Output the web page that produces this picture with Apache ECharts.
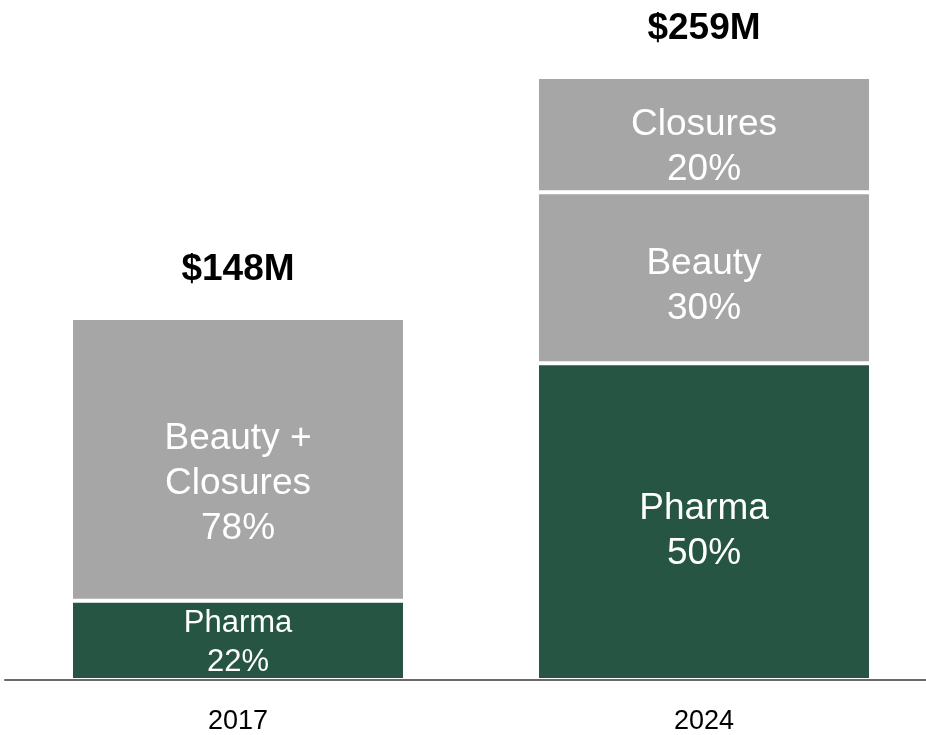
<!DOCTYPE html>
<html>
<head>
<meta charset="utf-8">
<script src="https://cdn.jsdelivr.net/npm/echarts@6/dist/echarts.min.js"></script>
<style>
  html, body { margin: 0; padding: 0; background: #fff; }
  #chart { width: 926px; height: 735px; }
</style>
</head>
<body>
<div id="chart"></div>
<script>
  // revenue mix, $M (segment heights as drawn)
  const categories = ['2017', '2024'];
  const pharma = [34, 136];
  const beautyClosures = [121.5, '-'];
  const beauty = ['-', 73.5];
  const closures = ['-', 49.5];

  const pharmaShare = ['22%', '50%'];
  const beautyClosuresShare = ['78%', '-'];
  const beautyShare = ['-', '30%'];
  const closuresShare = ['-', '20%'];
  const totals = ['$148M', '$259M'];

  const GREEN = '#265643';
  const GREY = '#a6a6a6';
  const FONT = 'Arial, "Liberation Sans", sans-serif';

  var chartDom = document.getElementById('chart');
  var myChart = echarts.init(chartDom);

  const segStyle = (color) => ({ color: color, borderColor: '#fff', borderWidth: 2 });
  const inLabel = (name, shares, dy) => ({
    show: true,
    position: 'inside',
    offset: [0, dy],
    color: '#fff',
    fontFamily: FONT,
    fontSize: 37,
    lineHeight: 45,
    formatter: (p) => name + '\n' + shares[p.dataIndex]
  });

  let option = {
    animation: false,
    grid: { left: 5, right: -11, top: 77, bottom: 55, outerBoundsMode: 'none' },
    xAxis: {
      type: 'category',
      z: 5,
      data: categories,
      axisTick: { show: false },
      axisLine: { lineStyle: { color: '#6a6a6a', width: 2 } },
      axisLabel: { color: '#000', fontFamily: FONT, fontSize: 27, margin: 28 }
    },
    yAxis: {
      type: 'value',
      min: 0,
      max: 259,
      show: false,
      splitLine: { show: false }
    },
    series: [
      {
        name: 'Pharma',
        type: 'bar',
        stack: 'rev',
        barWidth: 334,
        itemStyle: segStyle(GREEN),
        data: pharma.map((v, i) => ({
          value: v,
          label: i === 0
            ? { fontSize: 31, lineHeight: 39, offset: [0, 3] }
            : { fontSize: 37, lineHeight: 45, offset: [0, 10] }
        })),
        label: inLabel('Pharma', pharmaShare, 10)
      },
      {
        name: 'Beauty + Closures',
        type: 'bar',
        stack: 'rev',
        itemStyle: segStyle(GREY),
        data: beautyClosures,
        label: {
          ...inLabel('', beautyClosuresShare, 24),
          formatter: (p) => 'Beauty +\nClosures\n' + beautyClosuresShare[p.dataIndex]
        }
      },
      {
        name: 'Beauty',
        type: 'bar',
        stack: 'rev',
        itemStyle: segStyle(GREY),
        data: beauty,
        label: inLabel('Beauty', beautyShare, 8)
      },
      {
        name: 'Closures',
        type: 'bar',
        stack: 'rev',
        itemStyle: segStyle(GREY),
        data: closures,
        label: inLabel('Closures', closuresShare, 13)
      },
      {
        // zero-height cap, only carries the total label
        name: 'Total',
        type: 'bar',
        stack: 'rev',
        itemStyle: { color: 'transparent', borderWidth: 0 },
        data: [0, 0],
        label: {
          show: true,
          position: 'top',
          distance: 30,
          color: '#000',
          fontFamily: FONT,
          fontWeight: 'bold',
          fontSize: 37,
          formatter: (p) => totals[p.dataIndex]
        }
      }
    ]
  };

  myChart.setOption(option);
</script>
</body>
</html>
